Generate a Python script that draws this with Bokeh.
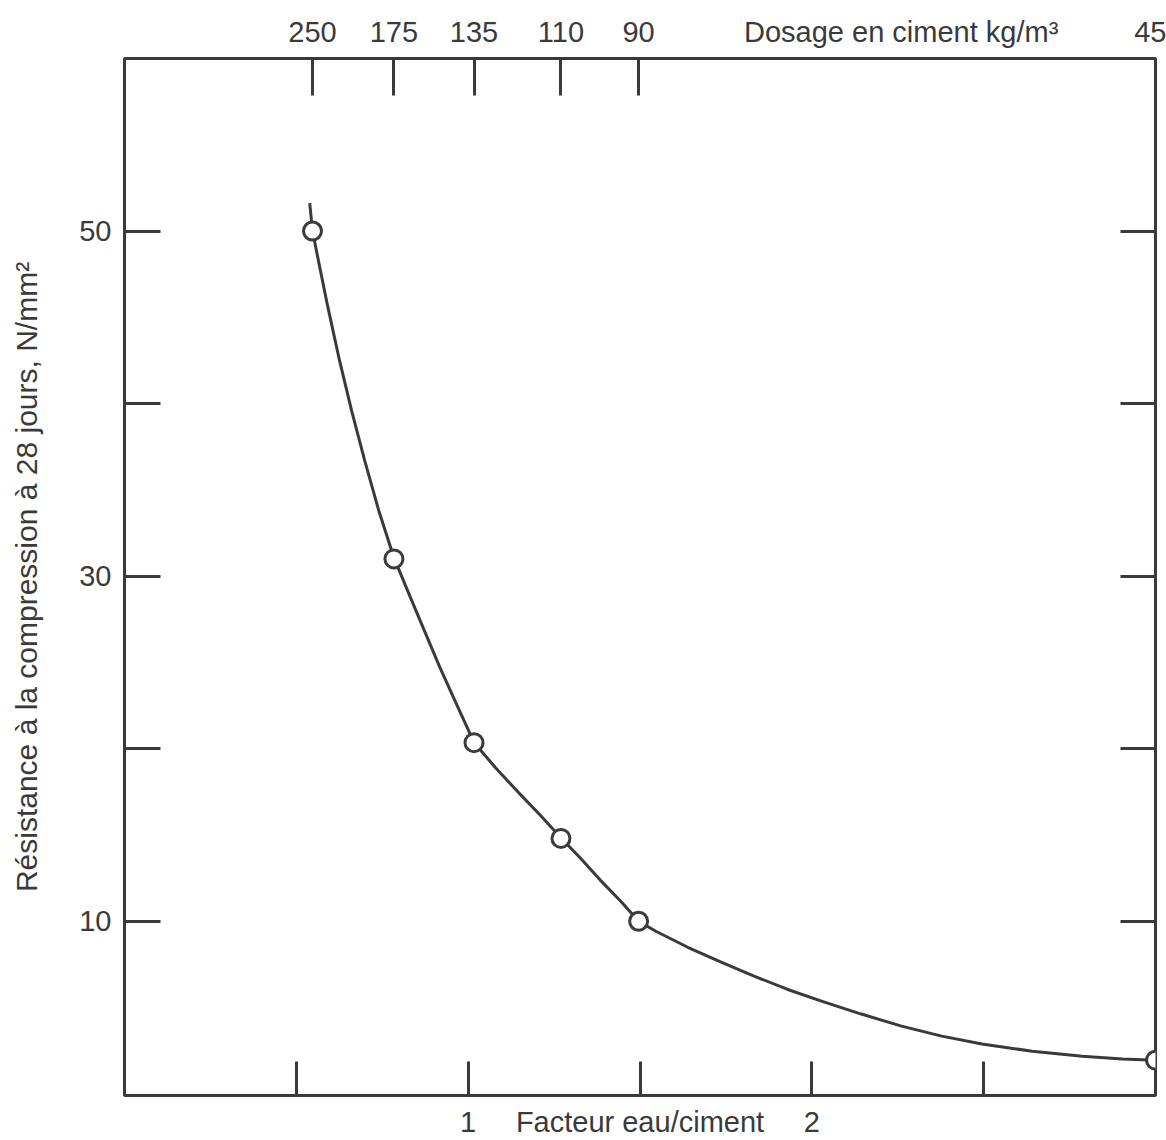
from bokeh.plotting import figure
from bokeh.models import LinearAxis, FixedTicker, Range1d
from bokeh.embed import file_html
from bokeh.resources import INLINE

# ---- data ----
# measured points: water/cement factor vs 28-day compressive strength
wc_ratio = [0.547, 0.784, 1.017, 1.270, 1.496, 3.0]
strength = [50.0, 31.0, 20.35, 14.8, 10.0, 1.95]
# cement content (kg/m3) for each measured point (top scale)
dosage = ["250", "175", "135", "110", "90", "45"]

# curve
curve_x = [0.539, 0.547, 0.568, 0.591, 0.626, 0.661, 0.699, 0.740, 0.784,
           0.831, 0.875, 0.918, 0.968, 1.017, 1.079, 1.146, 1.210, 1.271,
           1.327, 1.385, 1.444, 1.496, 1.546, 1.639, 1.736, 1.832, 1.928,
           2.028, 2.144, 2.261, 2.378, 2.495, 2.641, 2.787, 2.904, 3.000]
curve_y = [51.62, 50.00, 47.92, 45.66, 42.47, 39.58, 36.69, 33.79, 31.07,
           28.81, 26.73, 24.70, 22.50, 20.36, 18.91, 17.47, 16.14, 14.81,
           13.65, 12.37, 11.16, 10.00, 9.42, 8.49, 7.63, 6.82, 6.06,
           5.37, 4.62, 3.92, 3.34, 2.88, 2.47, 2.18, 2.01, 1.95]

x_ticks = [0.5, 1.0, 1.5, 2.0, 2.5]
x_tick_labels = ["", "1", "Facteur eau/ciment", "2", ""]
y_ticks = [10, 20, 30, 40, 50]
y_tick_labels = ["10", "", "30", "", "50"]

y_title = "Résistance à la compression à 28 jours, N/mm²"
top_title = "Dosage en ciment kg/m³"

# ---- styling ----
INK = "#3b393b"
TXT = "#3a3a3a"
FONT = "Liberation Sans"
FS = "29px"

p = figure(width=1166, height=1140, output_backend="svg", toolbar_location=None,
           x_range=Range1d(0, 3.0), y_range=Range1d(-0.1, 60),
           x_axis_location=None, y_axis_location=None,
           min_border_left=124, min_border_right=11, min_border_top=58,
           min_border_bottom=43)
p.xgrid.visible = False
p.ygrid.visible = False
p.outline_line_color = INK
p.outline_line_width = 3
p.background_fill_color = "white"
p.border_fill_color = "white"


def style_axis(ax, tick_len):
    ax.axis_line_color = None
    ax.major_tick_in = tick_len
    ax.major_tick_out = 0
    ax.major_tick_line_color = INK
    ax.major_tick_line_width = 3
    ax.minor_tick_line_color = None
    ax.major_label_text_font = FONT
    ax.major_label_text_font_size = FS
    ax.major_label_text_color = TXT
    ax.axis_label_text_font = FONT
    ax.axis_label_text_font_size = "30px"
    ax.axis_label_text_color = TXT
    ax.axis_label_text_font_style = "normal"


# bottom axis
bottom = LinearAxis(ticker=FixedTicker(ticks=x_ticks),
                    major_label_overrides={t: l for t, l in zip(x_ticks, x_tick_labels)})
style_axis(bottom, 34)
bottom.major_label_standoff = 10
p.add_layout(bottom, "below")

# left axis
left = LinearAxis(ticker=FixedTicker(ticks=y_ticks),
                  major_label_overrides={t: l for t, l in zip(y_ticks, y_tick_labels)},
                  axis_label=y_title)
style_axis(left, 36)
left.major_label_standoff = 13
left.axis_label_standoff = 33
p.add_layout(left, "left")

# right axis (ticks only)
right = LinearAxis(ticker=FixedTicker(ticks=y_ticks),
                   major_label_overrides={t: "" for t in y_ticks})
style_axis(right, 35)
right.major_label_standoff = 0
right.major_label_text_font_size = "0px"
p.add_layout(right, "right")

# top axis: tick marks at the measured points (no labels)
top_ticks = LinearAxis(ticker=FixedTicker(ticks=wc_ratio[:-1]),
                       major_label_overrides={t: "" for t in wc_ratio[:-1]})
style_axis(top_ticks, 37)
top_ticks.major_label_standoff = 0
top_ticks.major_label_text_font_size = "0px"
p.add_layout(top_ticks, "above")

# top axis: labels only (cement content, scale title, last value)
top_label_x = wc_ratio[:-1] + [2.26, wc_ratio[-1] - 0.015]
top_label_text = dosage[:-1] + [top_title, dosage[-1]]
top_labels = LinearAxis(ticker=FixedTicker(ticks=top_label_x),
                        major_label_overrides={t: l for t, l in zip(top_label_x, top_label_text)})
style_axis(top_labels, 0)
top_labels.major_tick_line_color = None
top_labels.major_label_standoff = 11
p.add_layout(top_labels, "above")

# curve and points
p.line(curve_x, curve_y, line_color=INK, line_width=3)
p.scatter(wc_ratio, strength, marker="circle", size=18, fill_color="white",
          line_color=INK, line_width=3)

open("out.html", "w").write(file_html(p, INLINE))
